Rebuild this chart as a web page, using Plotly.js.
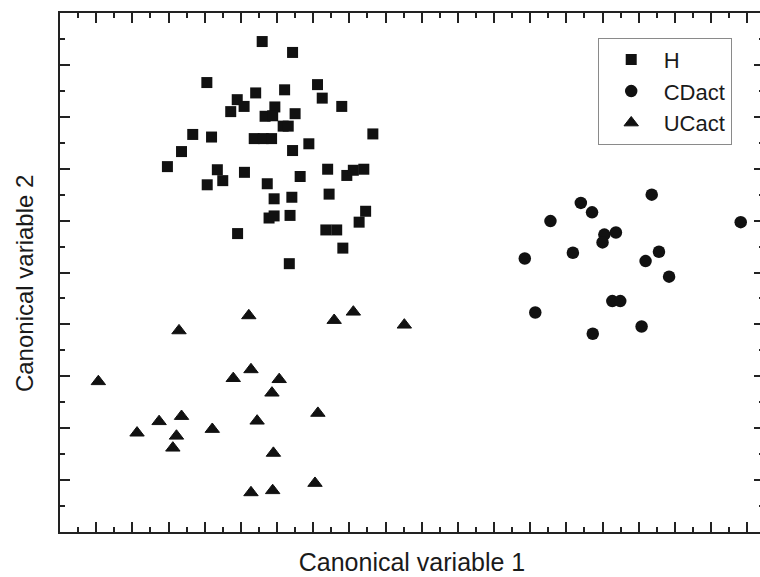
<!DOCTYPE html>
<html>
<head>
<meta charset="utf-8">
<script src="https://cdn.plot.ly/plotly-3.0.1.min.js"></script>
<style>
  html, body { margin: 0; padding: 0; overflow: hidden; background: #ffffff; }
  #chart { width: 780px; height: 577px; }
</style>
</head>
<body>
<div id="chart"></div>
<script>
// Group H (squares)
const hX = [-3.41,-2.57,-4.94,-3.59,-2.79,-1.88,-1.75,-1.21,-4.10,-3.91,
            -4.28,-3.06,-3.33,-3.12,-2.50,-2.83,-2.69,-0.35,-5.33,-4.81,
            -3.63,-3.38,-3.15,-2.57,-2.12,-5.64,-6.03,-4.65,-4.50,-4.93,
            -3.90,-3.27,-2.36,-1.60,-1.07,-0.89,-0.60,-1.56,-3.08,-2.59,
            -3.22,-3.08,-2.64,-0.55,-0.73,-1.65,-1.35,-4.09,-1.18,-2.66];
const hY = [4.45,4.24,3.66,3.46,3.52,3.62,3.36,3.20,3.33,3.20,
            3.10,3.19,3.01,3.02,3.06,2.82,2.82,2.67,2.66,2.61,
            2.58,2.58,2.58,2.35,2.48,2.33,2.04,1.98,1.77,1.69,
            1.93,1.71,1.85,1.99,1.87,1.97,1.99,1.51,1.42,1.45,
            1.05,1.09,1.10,1.18,0.97,0.82,0.82,0.75,0.47,0.17];

// Group CDact (circles)
const cdX = [7.36,5.40,5.71,4.56,9.82,6.05,6.37,6.00,5.18,3.85,
             7.56,7.19,7.84,6.27,6.49,4.14,7.08,5.73];
const cdY = [1.50,1.34,1.16,0.99,0.97,0.73,0.77,0.58,0.38,0.27,
             0.40,0.22,-0.08,-0.55,-0.55,-0.77,-1.04,-1.18];

// Group UCact (triangles)
const ucX = [-3.78,-5.71,-1.42,-0.89,0.52,-7.94,-4.21,-3.72,-2.94,-3.14,
             -6.26,-5.64,-6.87,-5.78,-5.88,-4.79,-3.55,-1.87,-3.10,-3.72,
             -3.12,-1.95];
const ucY = [-0.83,-1.12,-0.92,-0.76,-1.01,-2.10,-2.04,-1.87,-2.06,-2.32,
             -2.87,-2.77,-3.09,-3.15,-3.38,-3.02,-2.86,-2.71,-3.48,-4.24,
             -4.20,-4.06];

const groupNames = ["H", "CDact", "UCact"];
const xTitle = "Canonical variable 1";
const yTitle = "Canonical variable 2";

const ink = "#111111";
const font = "Arial, 'Liberation Sans', Helvetica, sans-serif";

const traces = [
  {x: hX, y: hY, name: groupNames[0], type: "scatter", mode: "markers",
   marker: {symbol: "square", size: 11, color: ink}},
  {x: cdX, y: cdY, name: groupNames[1], type: "scatter", mode: "markers",
   marker: {symbol: "circle", size: 12.5, color: ink}},
  {x: ucX, y: ucY, name: groupNames[2], type: "scatter", mode: "markers",
   marker: {symbol: "triangle-up", size: 12.5, color: ink, line: {width: 1, color: ink}}}
];

const axisCommon = {
  showline: true, linecolor: "#222", linewidth: 2, mirror: "allticks",
  ticks: "inside", ticklen: 10, tickwidth: 2, tickcolor: "#222",
  dtick: 1, tick0: 0,
  minor: {ticks: "inside", ticklen: 5, tickwidth: 2, tickcolor: "#222", dtick: 0.5, showgrid: false},
  showticklabels: false, showgrid: false, zeroline: false, fixedrange: true
};

const layout = {
  width: 780, height: 577,
  margin: {l: 60, r: 16, t: 13, b: 45},
  paper_bgcolor: "#ffffff", plot_bgcolor: "#ffffff",
  showlegend: true,
  font: {family: font, color: "#1a1a1a"},
  xaxis: Object.assign({}, axisCommon, {
    range: [-9, 10.464],
    title: {text: xTitle, font: {family: font, size: 25, color: "#1a1a1a"}, standoff: 20}
  }),
  yaxis: Object.assign({}, axisCommon, {
    range: [-5, 5]
  }),
  legend: {
    x: 0.7638, y: 0.9524, xanchor: "left", yanchor: "top",
    bordercolor: "#8a8a8a", borderwidth: 1, bgcolor: "#ffffff",
    font: {family: font, size: 22, color: "#1a1a1a"},
    itemwidth: 55
  },
  annotations: [{
    text: yTitle, textangle: -90, showarrow: false,
    xref: "paper", yref: "paper", x: -0.051, y: 0.5 - 11.5/519,
    xanchor: "center", yanchor: "middle",
    font: {family: font, size: 24, color: "#1a1a1a"}
  }]
};

Plotly.newPlot("chart", traces, layout, {displayModeBar: false, staticPlot: true});
</script>
</body>
</html>
